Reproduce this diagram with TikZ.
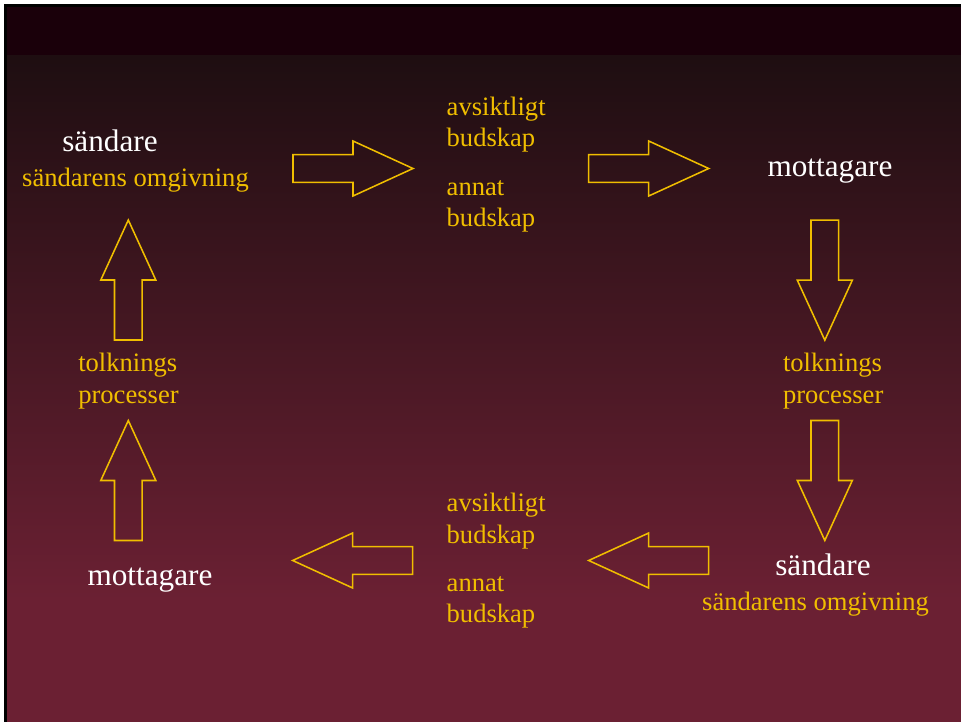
\documentclass[tikz,border=0pt]{standalone}
\usepackage{fontspec}
\setmainfont{Liberation Serif}
\usetikzlibrary{positioning}

\definecolor{bandtop}{RGB}{26,0,10}
\definecolor{slidetop}{RGB}{30,14,17}
\definecolor{slidebottom}{RGB}{107,32,51}
\definecolor{gold}{RGB}{240,190,0}

\begin{document}
\begin{tikzpicture}[
    x=0.025cm, y=-0.025cm,
    every node/.style={inner sep=0pt, outer sep=0pt},
    role/.style={text=white, font=\fontsize{22.2}{26}\selectfont},
    note/.style={text=gold, font=\fontsize{18.9}{22.5}\selectfont, align=left},
    blockarrow/.pic={
      \draw[gold, line width=1.1pt, line join=miter]
        (-60,-13.8) -- (0,-13.8) -- (0,-27.5) -- (60,0) -- (0,27.5) -- (0,13.8) -- (-60,13.8) -- cycle;
    }
  ]

    % Slide background
    \useasboundingbox (0,0) rectangle (961,722);
    \fill[white] (0,0) rectangle (961,722);
    \fill[black] (4,4) rectangle (961,722);
    \fill[bandtop] (7,7) rectangle (961,56);
    \shade[top color=slidetop, bottom color=slidebottom] (7,56) rectangle (961,600);
    \fill[slidebottom] (7,599.5) rectangle (961,722);

    % Upper row (two-line notes sit on their last baseline)
    \node[role, anchor=base] (sender1) at (110,151.7) {sändare};
    \node[note, anchor=base] (milieu1) at (135.5,186.7) {sändarens omgivning};
    \node[note, anchor=base west] (intended1) at (446.7,146.7) {avsiktligt\\budskap};
    \node[note, anchor=base west] (other1) at (446.7,226.7) {annat\\budskap};
    \node[role, anchor=base] (receiver1) at (830,177) {mottagare};

    % Interpretation
    \node[note, anchor=base west] (process1) at (783,403.3) {tolknings\\processer};
    \node[note, anchor=base west] (process2) at (78.3,403.3) {tolknings\\processer};

    % Lower row
    \node[role, anchor=base] (sender2) at (823,575) {sändare};
    \node[note, anchor=base] (milieu2) at (815.5,610.7) {sändarens omgivning};
    \node[note, anchor=base west] (intended2) at (446.7,543.3) {avsiktligt\\budskap};
    \node[note, anchor=base west] (other2) at (446.7,622.7) {annat\\budskap};
    \node[role, anchor=base] (receiver2) at (150,585) {mottagare};

    % Block arrows
    \pic at (353,168.5) {blockarrow};
    \pic at (648.7,168.5) {blockarrow};
    \pic[rotate=-90] at (824.8,280.2) {blockarrow};
    \pic[rotate=-90] at (824.8,480.5) {blockarrow};
    \pic[rotate=180] at (352.7,560.5) {blockarrow};
    \pic[rotate=180] at (648.7,560.5) {blockarrow};
    \pic[rotate=90] at (128.3,480.5) {blockarrow};
    \pic[rotate=90] at (128.3,280) {blockarrow};

\end{tikzpicture}
\end{document}
